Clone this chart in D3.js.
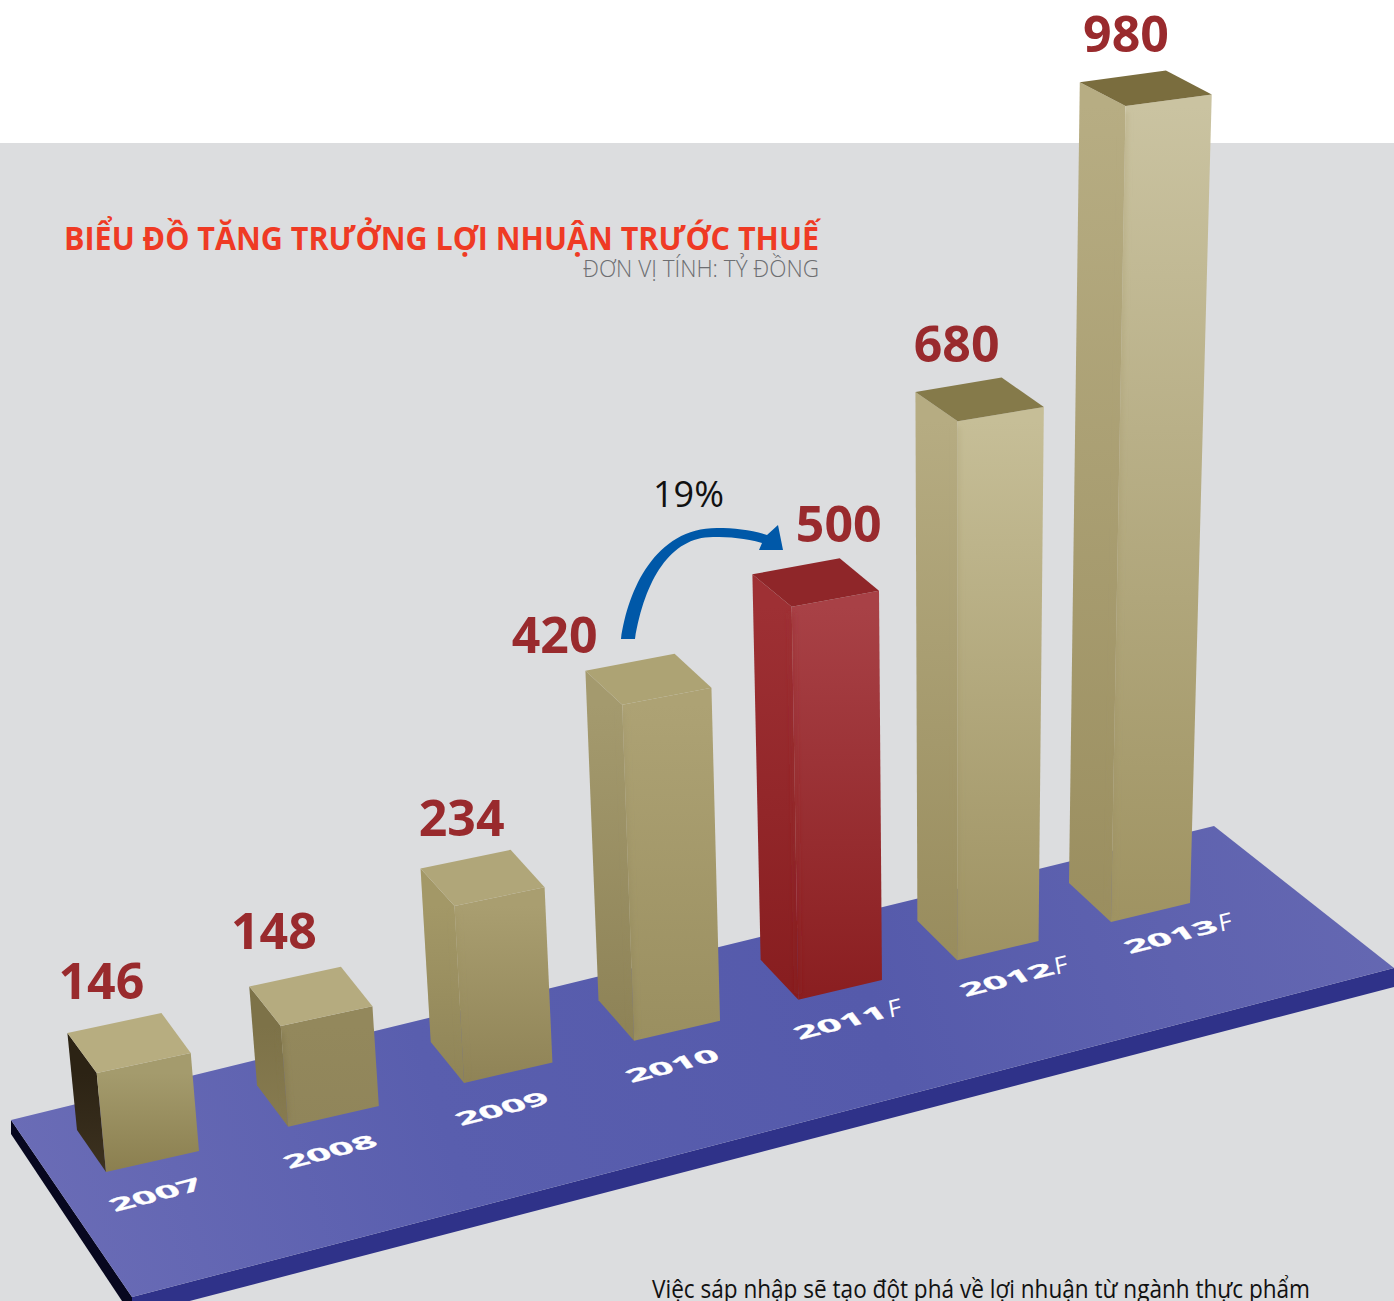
<!DOCTYPE html>
<html lang="vi">
<head>
<meta charset="utf-8">
<title>Biểu đồ tăng trưởng lợi nhuận trước thuế</title>
<script src="https://cdn.jsdelivr.net/npm/d3@7/dist/d3.min.js"></script>
<style>
  html, body { margin: 0; padding: 0; background: #fff; overflow: hidden; }
  svg { display: block; }
  text { font-family: "Open Sans", "Noto Sans", sans-serif; }
</style>
</head>
<body>
<svg id="chart" width="1394" height="1301"></svg>
<script>
// Pre-tax profit, billion VND; "F" marks a forecast year.
const years = ["2007", "2008", "2009", "2010", "2011", "2012", "2013"];
const forecastMarks = ["", "", "", "", "F", "F", "F"];
const profits = [146, 148, 234, 420, 500, 680, 980];

const titleText = "BIỂU ĐỒ TĂNG TRƯỞNG LỢI NHUẬN TRƯỚC THUẾ";
const unitText = "ĐƠN VỊ TÍNH: TỶ ĐỒNG";
const captionText = "Việc sáp nhập sẽ tạo đột phá về lợi nhuận từ ngành thực phẩm";

// Face colours per bar: top, left (upper, lower), right (upper, lower).
const barShades = [
  ["#b7ad80", "#2c2314", "#3d3220", "#a49b6d", "#8b7f4f"],
  ["#b5ab7f", "#7d7248", "#877b50", "#93885c", "#90855a"],
  ["#b0a679", "#a39867", "#8f8457", "#a99e70", "#8f8356"],
  ["#ada374", "#a49a6e", "#8d8256", "#ada274", "#9a8f60"],
  ["#8f2629", "#9e3034", "#871d1f", "#a84146", "#8a1e20"],
  ["#857a4a", "#b6ac82", "#988c5d", "#c6be97", "#9e9262"],
  ["#7a6d3e", "#b7ad83", "#9a8e5f", "#cac3a1", "#9f9362"]
];

// Label placement relative to the far corner of each bar top.
const labelShift = [[-60, -14], [-67, -18], [-49, -14], [-120, -1], [-1, -16.5], [-45, -16], [-40, -19]];

const svg = d3.select("#chart");
const defs = svg.append("defs");

defs.append("filter").attr("id", "soft")
  .attr("filterUnits", "userSpaceOnUse")
  .attr("x", 0).attr("y", 0).attr("width", 1394).attr("height", 1301)
  .append("feGaussianBlur").attr("stdDeviation", 2.5);

// ---- Page background ----
svg.append("rect").attr("x", 0).attr("y", 143).attr("width", 1394).attr("height", 1158).attr("fill", "#dcdddf");

// ---- Floor slab ----
const floorGrad = defs.append("linearGradient").attr("id", "floor")
  .attr("gradientUnits", "userSpaceOnUse")
  .attr("x1", 60).attr("y1", 1300).attr("x2", 1394).attr("y2", 900);
[[0, "#6a6cb6"], [0.3, "#595eae"], [0.62, "#555aab"], [1, "#6568b2"]]
  .forEach(([o, c]) => floorGrad.append("stop").attr("offset", o).attr("stop-color", c));

const polyPath = pts => d3.line()(pts) + "Z";

svg.append("path").attr("d", polyPath([[11, 1120], [132, 1297], [132, 1316], [11, 1134]])).attr("fill", "#07071f");
svg.append("path").attr("d", polyPath([[132, 1297], [1394, 968], [1394, 987], [132, 1316]])).attr("fill", "#2f3289");
svg.append("path").attr("d", polyPath([[11, 1120], [1214, 826], [1394, 968], [132, 1297]])).attr("fill", "url(#floor)");

// ---- Scene projection ----
// Foreshortening along the slab: bars further back sit closer together.
const recede = i => i / (1 + 0.01784 * i);
const baseX = d3.scaleLinear().domain([recede(0), recede(6)]).range([106, 1111]);
const baseY = d3.scaleLinear().domain([recede(0), recede(6)]).range([1172, 922]);

// Footprint edge vectors, changing gradually across the row.
const index = d3.scaleLinear().domain([0, 6]);
const widthX = index.copy().range([93, 79]);
const widthY = index.copy().range([-21, -19]);
const depthX = index.copy().range([-29, -42]);
const depthY = index.copy().range([-42, -39]);

// Value to drawn height; the camera exaggerates nearer-to-eye bars slightly.
const heightOf = d3.scaleLinear()
  .domain([0, 146, 234, 420, 500, 680, 980])
  .range([0, 99, 177, 336, 393, 539, 816]);

// Verticals converge on a point far below the page; tops flatten towards the horizon.
const vanishX = 950, vanishDist = 9000, horizon = 2100;

function corner(i, u, v, h) {
  const flatten = 1 - h / horizon;
  const x0 = baseX(recede(i)) + u * widthX(i) + v * depthX(i);
  const y0 = baseY(recede(i)) + (u * widthY(i) + v * depthY(i)) * flatten;
  return [x0 + (x0 - vanishX) * h / vanishDist, y0 - h];
}

function faceGradient(id, top, bottom, yTop, yBottom) {
  const g = defs.append("linearGradient").attr("id", id)
    .attr("gradientUnits", "userSpaceOnUse")
    .attr("x1", 0).attr("x2", 0).attr("y1", yTop).attr("y2", yBottom);
  g.append("stop").attr("offset", 0).attr("stop-color", top);
  g.append("stop").attr("offset", 1).attr("stop-color", bottom);
}

// ---- Bars ----
const bars = svg.selectAll("g.bar").data(profits).join("g").attr("class", "bar");

bars.each(function (value, i) {
  const h = heightOf(value);
  const g = d3.select(this);
  const shade = barShades[i];
  const frontTop = corner(i, 0, 0, h), frontBase = corner(i, 0, 0, 0);
  faceGradient(`left${i}`, shade[1], shade[2], frontTop[1], frontBase[1]);
  faceGradient(`right${i}`, shade[3], shade[4], frontTop[1], frontBase[1]);

  g.append("path").attr("fill", `url(#left${i})`)
    .attr("d", polyPath([frontBase, corner(i, 0, 1, 0), corner(i, 0, 1, h), frontTop]));
  g.append("path").attr("fill", `url(#right${i})`)
    .attr("d", polyPath([frontBase, corner(i, 1, 0, 0), corner(i, 1, 0, h), frontTop]));

  // The shared edge of the two side faces melts together on all but the darkest bar.
  if (i > 0) {
    const edgeTop = corner(i, 0, 0, h - 6), edgeBase = corner(i, 0, 0, 6);
    g.append("line")
      .attr("x1", edgeTop[0]).attr("y1", edgeTop[1])
      .attr("x2", edgeBase[0]).attr("y2", edgeBase[1])
      .attr("stroke", `url(#left${i})`)
      .attr("stroke-width", 5)
      .attr("stroke-opacity", 0.55)
      .attr("filter", "url(#soft)");
  }

  g.append("path").attr("fill", shade[0])
    .attr("d", polyPath([frontTop, corner(i, 1, 0, h), corner(i, 1, 1, h), corner(i, 0, 1, h)]));
});

// ---- Value labels ----
svg.selectAll("text.value").data(profits).join("text")
  .attr("class", "value")
  .attr("x", (d, i) => corner(i, 1, 1, heightOf(d))[0] + labelShift[i][0])
  .attr("y", (d, i) => corner(i, 1, 1, heightOf(d))[1] + labelShift[i][1])
  .attr("text-anchor", "middle")
  .attr("font-size", 50)
  .attr("font-weight", 700)
  .attr("fill", "#992a2d")
  .text(d => d);

// ---- Year labels lying on the slab ----
const recedeLabel = i => i / (1 + 0.006 * i);
const labelX = d3.scaleLinear().domain([recedeLabel(0), recedeLabel(6)]).range([115, 1130]);
const labelY = d3.scaleLinear().domain([0, 6]).range([1212, 954]);

svg.selectAll("text.year").data(years).join("text")
  .attr("class", "year")
  .attr("transform", (d, i) =>
    `matrix(${2.4 * 0.968} ${-2.4 * 0.25} 0.72 0.95 ${labelX(recedeLabel(i))} ${labelY(i)})`)
  .attr("font-size", 17)
  .attr("font-weight", 700)
  .attr("fill", "#fff")
  .attr("stroke", "#fff")
  .attr("stroke-width", 0.25)
  .text(d => d);

// The forecast letter stands nearly upright and thin beside the digits.
svg.selectAll("text.mark").data(forecastMarks).join("text")
  .attr("class", "mark")
  .attr("transform", (d, i) =>
    `matrix(1.2 -0.32 0.2 1.1 ${labelX(recedeLabel(i)) + 90} ${labelY(i) - 22})`)
  .attr("font-size", 21)
  .attr("fill", "#fff")
  .text(d => d);

// ---- Growth arrow from 2010 to 2011 ----
svg.append("path")
  .attr("fill", "#0058a8")
  .attr("d", "M621,639 C628,590 655,528 717,528 C735,528 752,530 767,535 L778,525 L783,550 L759,550 L762,543 C745,538 730,537 713,537 C670,537 645,580 635,639 Z");
svg.append("text")
  .attr("x", 688.5).attr("y", 507)
  .attr("text-anchor", "middle")
  .attr("font-size", 36)
  .attr("fill", "#111")
  .text(d3.format(".0%")(profits[4] / profits[3] - 1));

// ---- Titles and caption ----
svg.append("text")
  .attr("x", 64).attr("y", 250)
  .attr("font-size", 33).attr("font-weight", 700)
  .attr("fill", "#ef3a24")
  .attr("textLength", 755).attr("lengthAdjust", "spacingAndGlyphs")
  .text(titleText);
svg.append("text")
  .attr("x", 583).attr("y", 277)
  .attr("font-size", 23).attr("font-weight", 300)
  .attr("fill", "#6d6e71")
  .attr("textLength", 236).attr("lengthAdjust", "spacingAndGlyphs")
  .text(unitText);
svg.append("text")
  .attr("x", 652).attr("y", 1298)
  .attr("font-size", 25)
  .attr("fill", "#111")
  .attr("textLength", 658).attr("lengthAdjust", "spacingAndGlyphs")
  .text(captionText);
</script>
</body>
</html>
